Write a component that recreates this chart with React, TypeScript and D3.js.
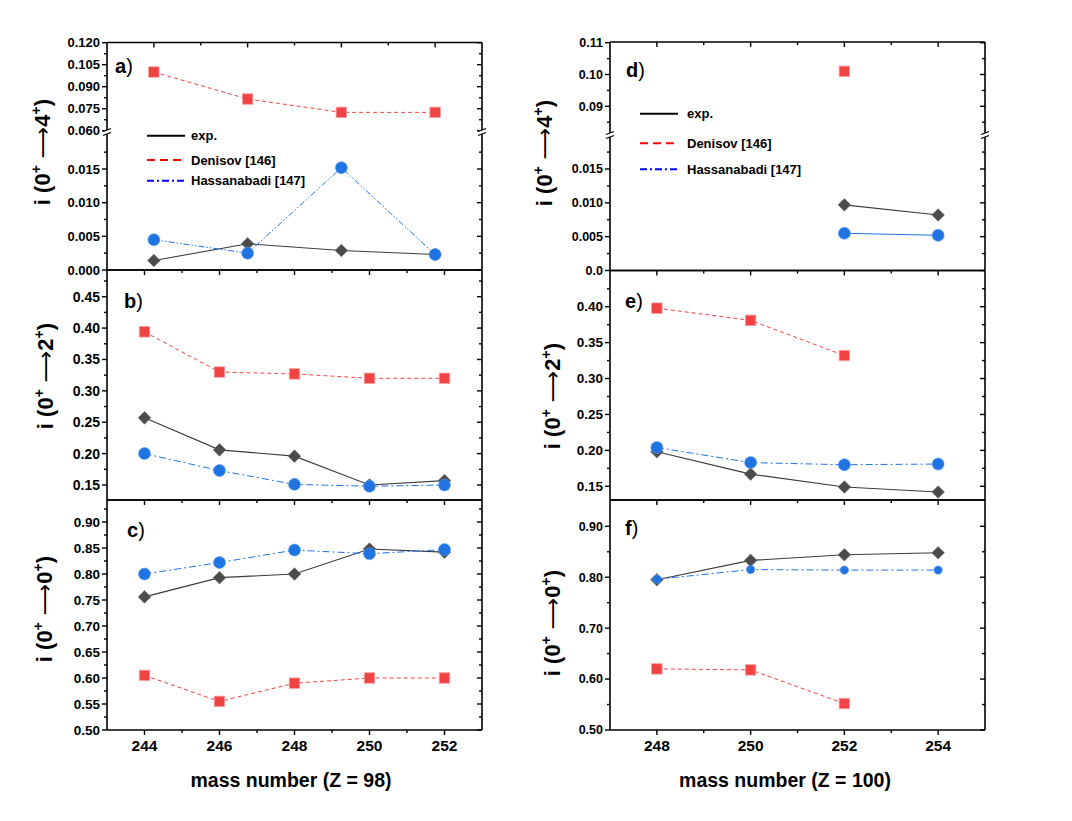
import * as d3 from 'd3';

const FONT = '"Liberation Sans", Arial, sans-serif';

// Mass numbers
const CF_MASS = [244, 246, 248, 250, 252];
const CF_MASS_A = [246, 248, 250, 252];
const FM_MASS = [248, 250, 252, 254];

// Panel a: i(0+ -> 4+), Z = 98
const aExp = [0.0014, 0.0039, 0.0029, 0.0023];
const aDenisov = [0.1, 0.0816, 0.0725, 0.0725];
const aHass = [0.0045, 0.0025, 0.0152, 0.0023];

// Panel b: i(0+ -> 2+), Z = 98
const bExp = [0.257, 0.206, 0.196, 0.15, 0.157];
const bDenisov = [0.394, 0.33, 0.327, 0.32, 0.32];
const bHass = [0.2, 0.173, 0.151, 0.148, 0.15];

// Panel c: i(0+ -> 0+), Z = 98
const cExp = [0.756, 0.793, 0.8, 0.848, 0.842];
const cDenisov = [0.605, 0.555, 0.59, 0.6, 0.6];
const cHass = [0.8, 0.822, 0.846, 0.839, 0.847];

// Panel d: i(0+ -> 4+), Z = 100
const dExp = [null, null, 0.0097, 0.0082];
const dDenisov = [null, null, 0.101, null];
const dHass = [null, null, 0.0055, 0.0052];

// Panel e: i(0+ -> 2+), Z = 100
const eExp = [0.198, 0.167, 0.149, 0.142];
const eDenisov = [0.398, 0.381, 0.332, null];
const eHass = [0.204, 0.183, 0.18, 0.181];

// Panel f: i(0+ -> 0+), Z = 100
const fExp = [0.795, 0.833, 0.844, 0.848];
const fDenisov = [0.62, 0.618, 0.552, null];
const fHass = [0.796, 0.815, 0.814, 0.814];

// Tick values
const aUpperTicks = [0.06, 0.075, 0.09, 0.105, 0.12];
const aUpperMinor = [0.0675, 0.0825, 0.0975, 0.1125];
const aLowerTicks = [0, 0.005, 0.01, 0.015];
const aLowerMinor = [0.0025, 0.0075, 0.0125, 0.0175];
const bTicks = [0.15, 0.2, 0.25, 0.3, 0.35, 0.4, 0.45];
const bMinor = [0.175, 0.225, 0.275, 0.325, 0.375, 0.425, 0.475];
const cTicks = [0.5, 0.55, 0.6, 0.65, 0.7, 0.75, 0.8, 0.85, 0.9];
const cMinor = [0.525, 0.575, 0.625, 0.675, 0.725, 0.775, 0.825, 0.875, 0.925];
const dUpperTicks = [0.09, 0.1, 0.11];
const dUpperMinor = [0.085, 0.095, 0.105];
const dLowerTicks = [0, 0.005, 0.01, 0.015];
const dLowerMinor = [0.0025, 0.0075, 0.0125, 0.0175];
const eTicks = [0.15, 0.2, 0.25, 0.3, 0.35, 0.4];
const eMinor = [0.175, 0.225, 0.275, 0.325, 0.375, 0.425];
const fTicks = [0.5, 0.6, 0.7, 0.8, 0.9];
const fMinor = [0.55, 0.65, 0.75, 0.85];

const CF_X_MAJOR = [244, 246, 248, 250, 252];
const CF_X_MINOR = [245, 247, 249, 251];
const CF_A_X_MAJOR = [246, 248, 250, 252];
const CF_A_X_MINOR = [247, 249, 251];
const FM_X_MAJOR = [248, 250, 252, 254];
const FM_X_MINOR = [249, 251, 253];

const LEGEND_LABELS = ['exp.', 'Denisov [146]', 'Hassanabadi [147]'];

const EXP_FILL = '#4b4b4b';
const EXP_LINE = '#3c3c3c';
const DEN_FILL = '#f04343';
const DEN_EDGE = '#f7a3a3';
const HASS_FILL = '#1f74e2';

type Seg = {
  domain: [number, number];
  range: [number, number];
  major: number[];
  minor: number[];
  fmt: (v: number) => string;
  min: number;
};

interface PanelProps {
  x0: number;
  x1: number;
  top: number;
  bottom: number;
  xDomain: [number, number];
  masses: number[];
  xMajor: number[];
  xMinor: number[];
  segs: Seg[];
  breakY?: number;
  exp: (number | null)[];
  den: (number | null)[];
  hass: (number | null)[];
  hassDash: string | null;
  hassR: number;
  label: string;
  labelX: number;
  labelY: number;
  tickFont: number;
  final: string;
  titleX: number;
  titleY: number;
  xLabels: boolean;
}

function Panel(p: PanelProps) {
  const x = d3.scaleLinear().domain(p.xDomain).range([p.x0, p.x1]);
  const scales = p.segs.map(s => d3.scaleLinear().domain(s.domain).range(s.range));
  const y = (v: number) => {
    for (let i = 0; i < p.segs.length; i++) if (v >= p.segs[i].min) return scales[i](v);
    return scales[scales.length - 1](v);
  };
  const pts = (vals: (number | null)[]) =>
    vals.map((v, i) => ({ m: p.masses[i], v }));
  type P = { m: number; v: number | null };
  const line = d3
    .line<P>()
    .defined(d => d.v != null)
    .x(d => x(d.m))
    .y(d => y(d.v as number));

  const expPts = pts(p.exp);
  const denPts = pts(p.den);
  const hassPts = pts(p.hass);

  const leftTicks: { y: number; major: boolean; label?: string }[] = [];
  p.segs.forEach((s, i) => {
    s.major.forEach(v => leftTicks.push({ y: scales[i](v), major: true, label: s.fmt(v) }));
    s.minor.forEach(v => leftTicks.push({ y: scales[i](v), major: false }));
  });

  const sq = 10.5;
  const dm = 6.3;

  return (
    <g>
      {/* frame */}
      <line x1={p.x0} x2={p.x1} y1={p.top} y2={p.top} stroke="#000" strokeWidth={1.6} />
      <line x1={p.x0} x2={p.x1} y1={p.bottom} y2={p.bottom} stroke="#000" strokeWidth={1.6} />
      <line x1={p.x0} x2={p.x0} y1={p.top} y2={p.bottom} stroke="#000" strokeWidth={1.6} />
      <line x1={p.x1} x2={p.x1} y1={p.top} y2={p.bottom} stroke="#000" strokeWidth={1.6} />

      {/* y ticks: outward on left, inward on right */}
      {leftTicks.map((t, i) => (
        <g key={`yt-${i}`}>
          <line x1={p.x0 - (t.major ? 5 : 3)} x2={p.x0} y1={t.y} y2={t.y} stroke="#000" strokeWidth={1.4} />
          <line x1={p.x1 - (t.major ? 5 : 3)} x2={p.x1} y1={t.y} y2={t.y} stroke="#000" strokeWidth={1.4} />
          {t.label && (
            <text
              x={p.x0 - 7}
              y={t.y}
              dy="0.35em"
              textAnchor="end"
              fontSize={p.tickFont}
              fontWeight="bold"
            >
              {t.label}
            </text>
          )}
        </g>
      ))}

      {/* x ticks: inward from top */}
      {p.xMajor.map(m => (
        <line key={`xt-${m}`} x1={x(m)} x2={x(m)} y1={p.top} y2={p.top + 5} stroke="#000" strokeWidth={1.4} />
      ))}
      {p.xMinor.map(m => (
        <line key={`xm-${m}`} x1={x(m)} x2={x(m)} y1={p.top} y2={p.top + 3} stroke="#000" strokeWidth={1.4} />
      ))}
      {p.xLabels && (
        <g>
          {p.xMajor.map(m => (
            <g key={`xb-${m}`}>
              <line x1={x(m)} x2={x(m)} y1={p.bottom} y2={p.bottom + 5} stroke="#000" strokeWidth={1.4} />
              <text x={x(m)} y={p.bottom + 21} textAnchor="middle" fontSize={15.5} fontWeight="bold">
                {m}
              </text>
            </g>
          ))}
          {p.xMinor.map(m => (
            <line key={`xbm-${m}`} x1={x(m)} x2={x(m)} y1={p.bottom} y2={p.bottom + 3} stroke="#000" strokeWidth={1.4} />
          ))}
        </g>
      )}

      {/* axis break marks */}
      {p.breakY != null &&
        [p.x0, p.x1].map(bx => (
          <g key={`br-${bx}`}>
            <polygon
              points={`${bx - 4},${p.breakY! - 0.5} ${bx + 4},${p.breakY! - 3.5} ${bx + 4},${p.breakY! + 0.5} ${bx - 4},${p.breakY! + 3.5}`}
              fill="#fff"
            />
            <line x1={bx - 4} x2={bx + 4} y1={p.breakY! - 0.5} y2={p.breakY! - 3.5} stroke="#000" strokeWidth={1.3} />
            <line x1={bx - 4} x2={bx + 4} y1={p.breakY! + 3.5} y2={p.breakY! + 0.5} stroke="#000" strokeWidth={1.3} />
          </g>
        ))}

      {/* exp. */}
      <path d={line(expPts) ?? ''} fill="none" stroke={EXP_LINE} strokeWidth={1.1} />
      {expPts
        .filter(d => d.v != null)
        .map(d => (
          <polygon
            key={`e-${d.m}`}
            points={`${x(d.m)},${y(d.v!) - dm} ${x(d.m) + dm},${y(d.v!)} ${x(d.m)},${y(d.v!) + dm} ${x(d.m) - dm},${y(d.v!)}`}
            fill={EXP_FILL}
            stroke="#6a6a6a"
            strokeWidth={0.6}
          />
        ))}

      {/* Denisov */}
      <path d={line(denPts) ?? ''} fill="none" stroke={DEN_FILL} strokeWidth={1} strokeDasharray="4,3" />
      {denPts
        .filter(d => d.v != null)
        .map(d => (
          <rect
            key={`d-${d.m}`}
            x={x(d.m) - sq / 2}
            y={y(d.v!) - sq / 2}
            width={sq}
            height={sq}
            fill={DEN_FILL}
            stroke={DEN_EDGE}
            strokeWidth={0.8}
          />
        ))}

      {/* Hassanabadi */}
      <path
        d={line(hassPts) ?? ''}
        fill="none"
        stroke={HASS_FILL}
        strokeWidth={1}
        strokeDasharray={p.hassDash ?? undefined}
      />
      {hassPts
        .filter(d => d.v != null)
        .map(d => (
          <circle key={`h-${d.m}`} cx={x(d.m)} cy={y(d.v!)} r={p.hassR} fill={HASS_FILL} stroke="#5e9ef0" strokeWidth={0.6} />
        ))}

      {/* panel label */}
      <text x={p.labelX} y={p.labelY} fontSize={20}>
        <tspan fontWeight="bold">{p.label}</tspan>
        <tspan fontWeight="normal">)</tspan>
      </text>

      {/* y-axis title */}
      <text
        transform={`translate(${p.titleX},${p.titleY}) rotate(-90)`}
        textAnchor="middle"
        fontSize={22}
        fontWeight="bold"
      >
        <tspan>i (0</tspan>
        <tspan dy={-9} fontSize={14}>+</tspan>
        <tspan dy={9} fontWeight="normal" fontFamily="DejaVu Sans"> ⟶</tspan>
        <tspan>{p.final}</tspan>
        <tspan dy={-9} fontSize={14}>+</tspan>
        <tspan dy={9}>)</tspan>
      </text>
    </g>
  );
}

function Legend({ x0, x1, tx, rows }: { x0: number; x1: number; tx: number; rows: number[] }) {
  const styles = [
    { stroke: '#000', dash: undefined as string | undefined },
    { stroke: '#ff0000', dash: '8,5' },
    { stroke: '#0000ff', dash: '7,3,2,3' },
  ];
  return (
    <g>
      {LEGEND_LABELS.map((lab, i) => (
        <g key={lab}>
          <line x1={x0} x2={x1} y1={rows[i]} y2={rows[i]} stroke={styles[i].stroke} strokeWidth={2} strokeDasharray={styles[i].dash} />
          <text x={tx} y={rows[i] + 4.5} fontSize={13} fontWeight="bold">
            {lab}
          </text>
        </g>
      ))}
    </g>
  );
}

const f3 = (v: number) => v.toFixed(3);
const f2 = (v: number) => v.toFixed(2);
const fd = (v: number) => (v === 0 ? '0.0' : v.toFixed(3));

export default function App() {
  const L = { x0: 107, x1: 482 };
  const R = { x0: 610, x1: 985 };
  return (
    <div style={{ position: 'absolute', left: 0, top: 0, background: '#fff' }}>
      <svg width={1072} height={821} fontFamily={FONT} style={{ display: 'block' }}>
        <rect width={1072} height={821} fill="#fff" />

        <Panel
          {...L}
          top={42.5}
          bottom={270}
          xDomain={[245, 253]}
          masses={CF_MASS_A}
          xMajor={CF_A_X_MAJOR}
          xMinor={CF_A_X_MINOR}
          segs={[
            { domain: [0.06, 0.12], range: [130.7, 42.7], major: aUpperTicks, minor: aUpperMinor, fmt: f3, min: 0.04 },
            { domain: [0, 0.015], range: [270, 169], major: aLowerTicks, minor: aLowerMinor, fmt: f3, min: -Infinity },
          ]}
          breakY={132}
          exp={aExp}
          den={aDenisov}
          hass={aHass}
          hassDash="6,2,1.5,2,1.5,2"
          hassR={6}
          label="a"
          labelX={115}
          labelY={73}
          tickFont={13}
          final="4"
          titleX={50}
          titleY={152}
          xLabels={false}
        />
        <Panel
          {...L}
          top={270}
          bottom={500}
          xDomain={[243, 253]}
          masses={CF_MASS}
          xMajor={CF_X_MAJOR}
          xMinor={CF_X_MINOR}
          segs={[{ domain: [0.15, 0.45], range: [485, 296.7], major: bTicks, minor: bMinor, fmt: f2, min: -Infinity }]}
          exp={bExp}
          den={bDenisov}
          hass={bHass}
          hassDash="7,3,2,3"
          hassR={6}
          label="b"
          labelX={124}
          labelY={308}
          tickFont={14}
          final="2"
          titleX={53}
          titleY={376}
          xLabels={false}
        />
        <Panel
          {...L}
          top={500}
          bottom={730}
          xDomain={[243, 253]}
          masses={CF_MASS}
          xMajor={CF_X_MAJOR}
          xMinor={CF_X_MINOR}
          segs={[{ domain: [0.5, 0.9], range: [730, 522], major: cTicks, minor: cMinor, fmt: f2, min: -Infinity }]}
          exp={cExp}
          den={cDenisov}
          hass={cHass}
          hassDash="7,3,2,3"
          hassR={6}
          label="c"
          labelX={127}
          labelY={537}
          tickFont={13.5}
          final="0"
          titleX={52}
          titleY={609}
          xLabels={true}
        />

        <Panel
          {...R}
          top={42}
          bottom={270.5}
          xDomain={[247, 255]}
          masses={FM_MASS}
          xMajor={FM_X_MAJOR}
          xMinor={FM_X_MINOR}
          segs={[
            { domain: [0.09, 0.11], range: [106.3, 42.7], major: dUpperTicks, minor: dUpperMinor, fmt: f2, min: 0.05 },
            { domain: [0, 0.015], range: [270.5, 169], major: dLowerTicks, minor: dLowerMinor, fmt: fd, min: -Infinity },
          ]}
          breakY={135}
          exp={dExp}
          den={dDenisov}
          hass={dHass}
          hassDash={null}
          hassR={6}
          label="d"
          labelX={626}
          labelY={77}
          tickFont={12.5}
          final="4"
          titleX={552}
          titleY={153}
          xLabels={false}
        />
        <Panel
          {...R}
          top={270.5}
          bottom={500}
          xDomain={[247, 255]}
          masses={FM_MASS}
          xMajor={FM_X_MAJOR}
          xMinor={FM_X_MINOR}
          segs={[{ domain: [0.15, 0.4], range: [486.3, 306.7], major: eTicks, minor: eMinor, fmt: f2, min: -Infinity }]}
          exp={eExp}
          den={eDenisov}
          hass={eHass}
          hassDash="7,3,2,3"
          hassR={6}
          label="e"
          labelX={625}
          labelY={308}
          tickFont={13.5}
          final="2"
          titleX={560}
          titleY={396}
          xLabels={false}
        />
        <Panel
          {...R}
          top={500}
          bottom={730}
          xDomain={[247, 255]}
          masses={FM_MASS}
          xMajor={FM_X_MAJOR}
          xMinor={FM_X_MINOR}
          segs={[{ domain: [0.5, 0.9], range: [730, 526.3], major: fTicks, minor: fMinor, fmt: f2, min: -Infinity }]}
          exp={fExp}
          den={fDenisov}
          hass={fHass}
          hassDash="7,3,2,3"
          hassR={4.2}
          label="f"
          labelX={625}
          labelY={535}
          tickFont={12.5}
          final="0"
          titleX={560}
          titleY={623}
          xLabels={true}
        />

        <Legend x0={147} x1={185} tx={191} rows={[135.7, 160, 180.7]} />
        <Legend x0={640} x1={678} tx={687} rows={[113.7, 143.3, 169.3]} />

        <text x={291} y={787} textAnchor="middle" fontSize={19.5} fontWeight="bold">
          mass number (Z = 98)
        </text>
        <text x={785} y={787} textAnchor="middle" fontSize={19.5} fontWeight="bold">
          mass number (Z = 100)
        </text>
      </svg>
    </div>
  );
}
